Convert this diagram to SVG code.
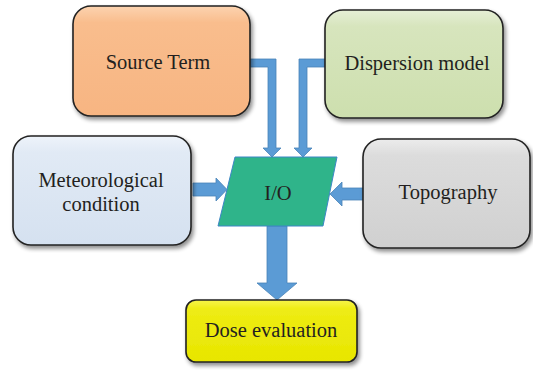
<svg xmlns="http://www.w3.org/2000/svg" width="533" height="370" viewBox="0 0 533 370">
<style>
.box{stroke:#222;stroke-width:1.6}
.lbl{font-family:"Liberation Serif","Times New Roman",serif;font-size:20.5px;fill:#231f20;text-anchor:middle}
.arr{fill:#5b9bd5;stroke:#4a84b8;stroke-width:0.8}
</style>
<defs>
<filter id="sh" x="-10%" y="-10%" width="125%" height="130%">
<feGaussianBlur in="SourceAlpha" stdDeviation="2"/>
<feOffset dx="2" dy="3" result="b"/>
<feComponentTransfer><feFuncA type="linear" slope="0.45"/></feComponentTransfer>
<feMerge><feMergeNode/><feMergeNode in="SourceGraphic"/></feMerge>
</filter>
<linearGradient id="gOr" x1="0" y1="0" x2="0" y2="1"><stop offset="0" stop-color="#fcd3b0"/><stop offset="0.15" stop-color="#f9bd8d"/><stop offset="1" stop-color="#f7b582"/></linearGradient>
<linearGradient id="gGr" x1="0" y1="0" x2="0" y2="1"><stop offset="0" stop-color="#e6efd6"/><stop offset="0.15" stop-color="#d7e5bd"/><stop offset="1" stop-color="#cddfae"/></linearGradient>
<linearGradient id="gBl" x1="0" y1="0" x2="0" y2="1"><stop offset="0" stop-color="#eef3fa"/><stop offset="0.15" stop-color="#e1eaf5"/><stop offset="1" stop-color="#d5e1f0"/></linearGradient>
<linearGradient id="gGy" x1="0" y1="0" x2="0" y2="1"><stop offset="0" stop-color="#ececec"/><stop offset="0.15" stop-color="#dcdcdc"/><stop offset="1" stop-color="#d0d0d0"/></linearGradient>
<linearGradient id="gYe" x1="0" y1="0" x2="0" y2="1"><stop offset="0" stop-color="#f6f54a"/><stop offset="0.15" stop-color="#eeec14"/><stop offset="1" stop-color="#e8e600"/></linearGradient>
</defs>
<g id="connectors">
<path class="arr" d="M250,59 H276 V148 H281 L272,157 L263,148 H268 V67 H250 Z"/>
<path class="arr" d="M325,59 H299 V148 H294 L303,157 L312,148 H307 V67 H325 Z"/>
<path class="arr" d="M193,183 H216 V178 L227,189.5 L216,201 V196 H193 Z"/>
<path class="arr" d="M364,188 H342 V182 L330,194 L342,206 V200 H364 Z"/>
<path class="arr" d="M267,226 H287 V283 H297 L277,300 L257,283 H267 Z"/>
</g>
<g id="source-term">
<rect class="box" x="73" y="6" width="177" height="110" rx="18" fill="url(#gOr)" filter="url(#sh)"/>
<text class="lbl" x="158" y="69">Source Term</text>
</g>
<g id="dispersion-model">
<rect class="box" x="325" y="10" width="178" height="108" rx="18" fill="url(#gGr)" filter="url(#sh)"/>
<text class="lbl" x="417" y="70">Dispersion model</text>
</g>
<g id="meteorological">
<rect class="box" x="13" y="136" width="178" height="109" rx="18" fill="url(#gBl)" filter="url(#sh)"/>
<text class="lbl" x="101" y="187">Meteorological</text>
<text class="lbl" x="101" y="211">condition</text>
</g>
<g id="topography">
<rect class="box" x="363" y="139" width="167" height="109" rx="18" fill="url(#gGy)" filter="url(#sh)"/>
<text class="lbl" x="448" y="199">Topography</text>
</g>
<g id="io">
<polygon points="235,157 337,157 323,226 218,226" fill="#2fb48a" stroke="#3d86c6" stroke-width="1"/>
<text class="lbl" x="278" y="200">I/O</text>
</g>
<g id="dose-evaluation">
<rect class="box" x="186" y="300" width="171" height="62" rx="10" fill="url(#gYe)" filter="url(#sh)"/>
<text class="lbl" x="271" y="337">Dose evaluation</text>
</g>
</svg>
